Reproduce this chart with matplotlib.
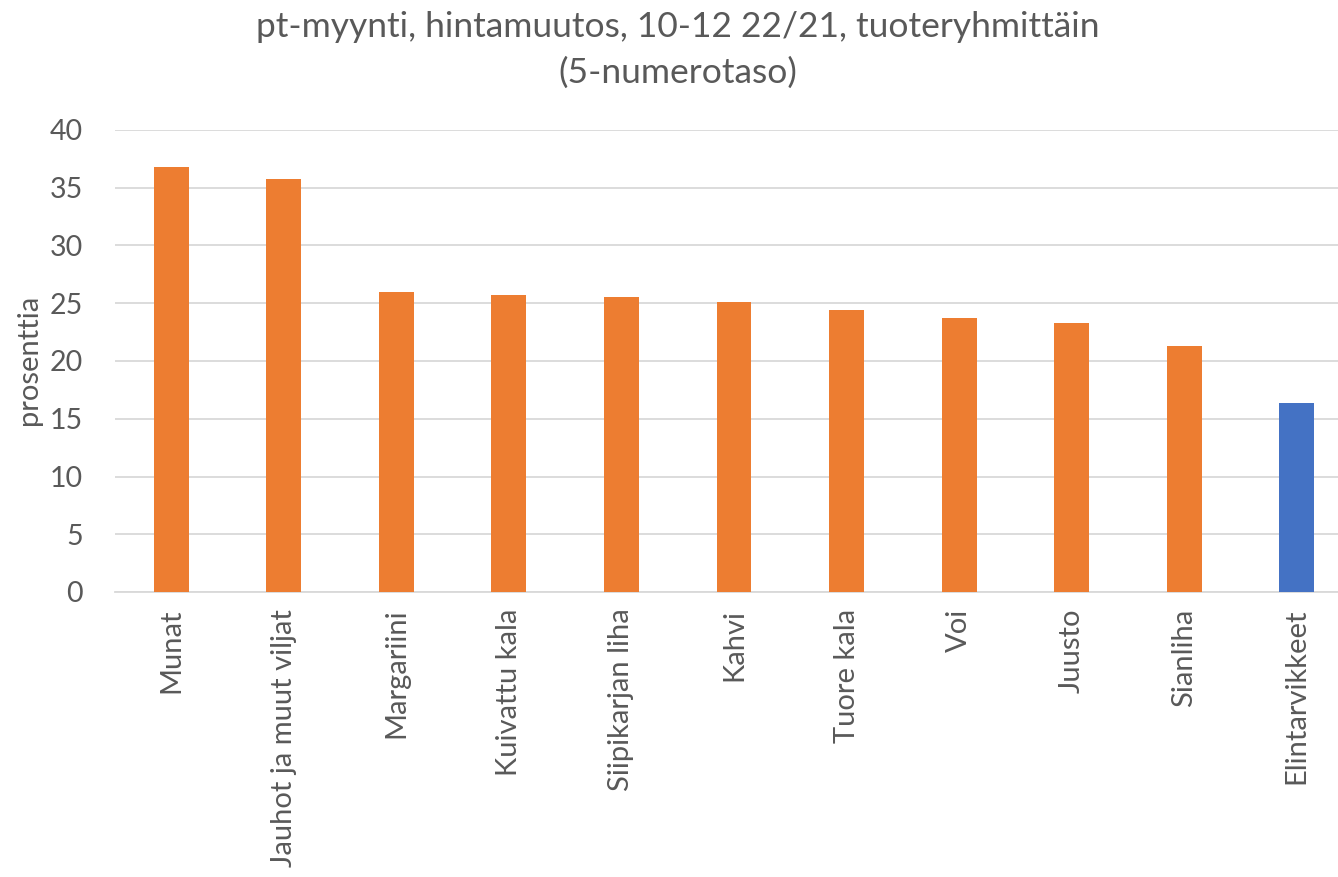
import matplotlib
matplotlib.use("Agg")
import matplotlib.pyplot as plt
import numpy as np

categories = ["Munat", "Jauhot ja muut viljat", "Margariini", "Kuivattu kala",
              "Siipikarjan liha", "Kahvi", "Tuore kala", "Voi", "Juusto",
              "Sianliha", "Elintarvikkeet"]
values = [36.8, 35.8, 26.0, 25.7, 25.5, 25.1, 24.4, 23.7, 23.3, 21.3, 16.4]
colors = ["#ED7D31"] * 10 + ["#4472C4"]
yticks = [0, 5, 10, 15, 20, 25, 30, 35, 40]

plt.rcParams['font.family'] = ['Lato', 'DejaVu Sans']
text_col = "#595959"

fig = plt.figure(figsize=(13.38, 8.77), dpi=100)
# plot area runs a bit past the right edge, like in the source image
ax = fig.add_axes([115 / 1338, 1 - 592 / 877, (1353 - 115) / 1338, (592 - 130) / 877])

x = np.arange(len(categories))
ax.bar(x, values, width=0.31, color=colors, zorder=3)

ax.set_ylim(0, 40)
ax.set_xlim(-0.5, len(categories) - 0.5)
ax.set_yticks(yticks)
ax.set_yticklabels([str(t) for t in yticks], fontsize=20.5, color=text_col)
ax.set_xticks(x)
ax.set_xticklabels(categories, rotation=90, fontsize=21, color=text_col, va="top", ha="center")
ax.tick_params(axis="both", length=0)
ax.tick_params(axis="y", pad=23)
ax.tick_params(axis="x", pad=12)

ax.grid(axis="y", color="#D9D9D9", linewidth=1.3, zorder=0)
for s in ["top", "right", "left"]:
    ax.spines[s].set_visible(False)
ax.spines["bottom"].set_color("#D9D9D9")
ax.spines["bottom"].set_linewidth(1.3)

fig.text(29 / 1338, 1 - 360 / 877, "prosenttia", rotation=90,
         ha="center", va="center", fontsize=21, color=text_col)

fig.text(678 / 1338, 1 - 27 / 877, "pt-myynti, hintamuutos, 10-12 22/21, tuoteryhmittäin",
         ha="center", va="center", fontsize=25.5, color=text_col)
fig.text(678 / 1338, 1 - 73 / 877, "(5-numerotaso)",
         ha="center", va="center", fontsize=25.5, color=text_col)

fig.savefig("out.png", dpi=100)
